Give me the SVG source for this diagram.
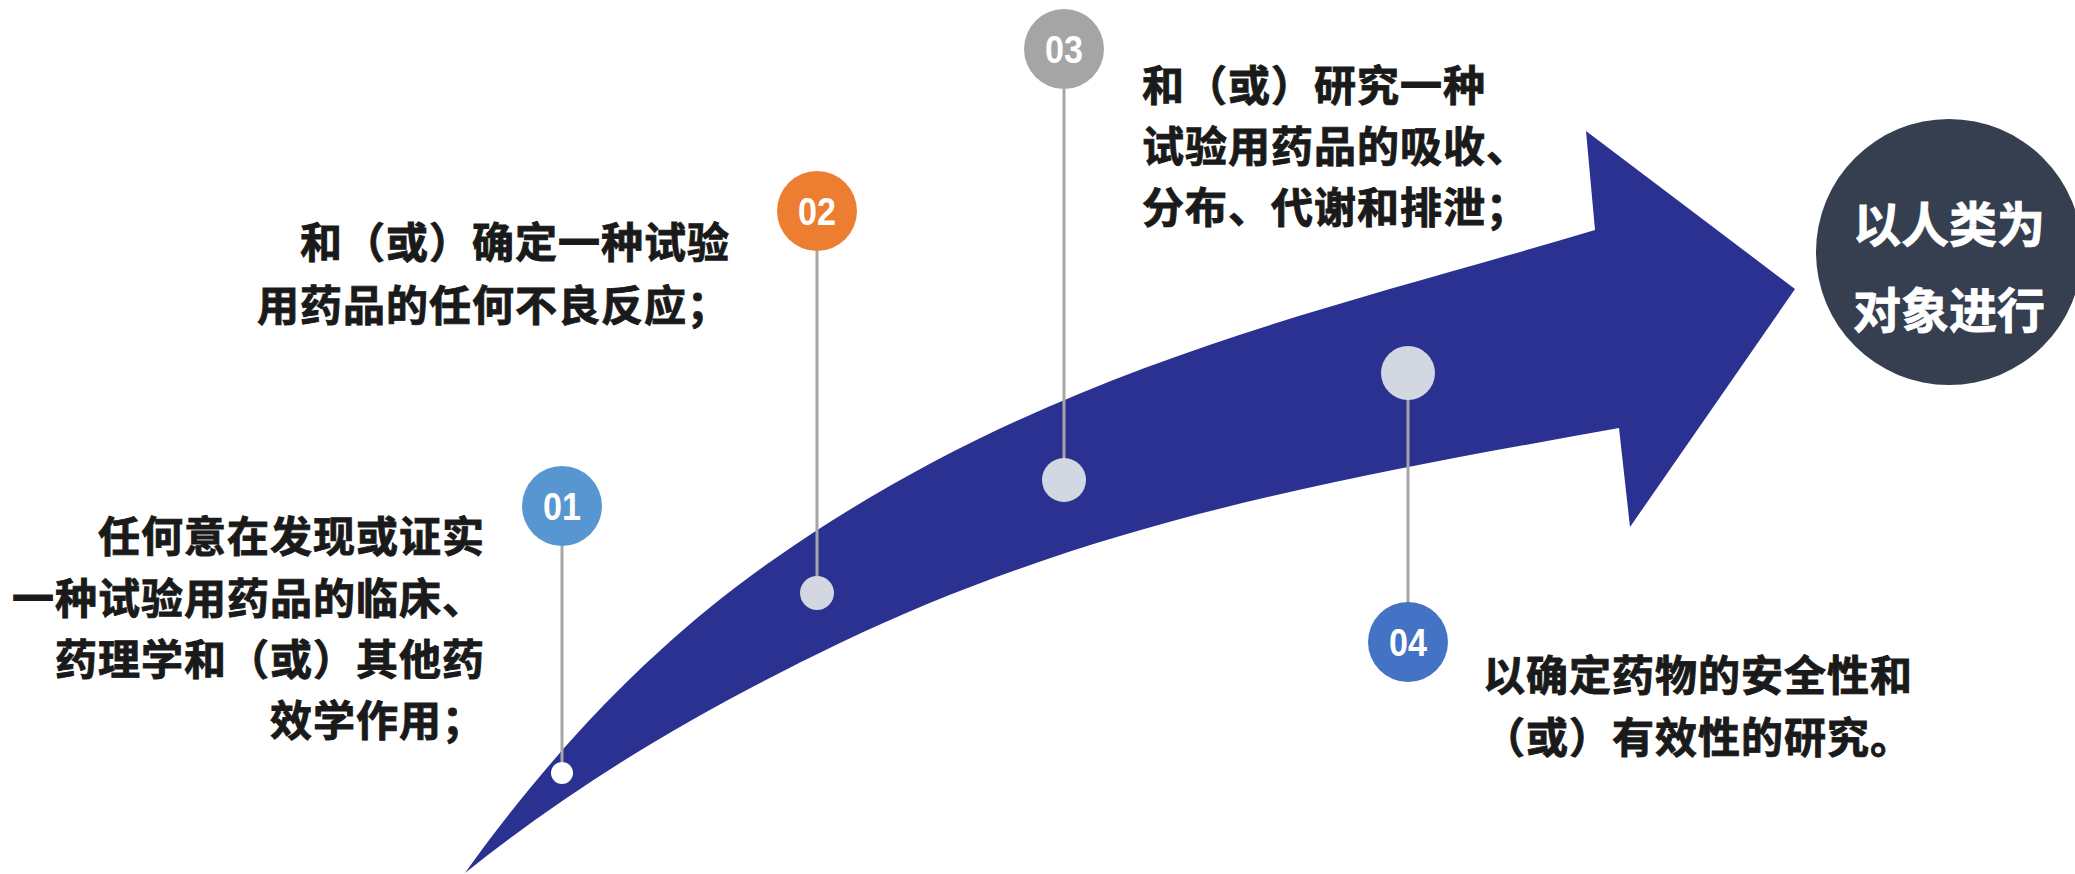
<svg xmlns="http://www.w3.org/2000/svg" width="2075" height="874" viewBox="0 0 2075 874">
  <style>
    .t { font-family: "Noto Sans CJK SC", "Noto Sans", sans-serif; font-weight: 700; font-size: 42px; fill: #1a1a1a; stroke: #1a1a1a; stroke-width: 0.9px; letter-spacing: 1px; }
    .num { font-family: "Liberation Sans", Arial, sans-serif; font-weight: 700; font-size: 38px; fill: #ffffff; text-anchor: middle; }
    .big { font-family: "Noto Sans CJK SC", "Noto Sans", sans-serif; font-weight: 700; font-size: 48px; fill: #ffffff; stroke: #ffffff; stroke-width: 0.8px; text-anchor: middle; }
    .conn { stroke: #a6a6a6; stroke-width: 3; fill: none; }
    .dot { fill: #d3d7e1; }
  </style>
  <rect width="2075" height="874" fill="#ffffff"/>

  <g id="arrow">
    <path d="M465,873 C590,773 715,703 840,643 C1100,518 1359,475 1619,428 L1630,527 L1795,289 L1586,131 L1595,230 C1321,312 1047,368 773,560 C670,632 565,733 465,873 Z" fill="#2b3191"/>
  </g>

  <g id="connectors">
    <line class="conn" x1="562" y1="546" x2="562" y2="762"/>
    <line class="conn" x1="817" y1="250" x2="817" y2="577"/>
    <line class="conn" x1="1064" y1="89" x2="1064" y2="459"/>
    <line class="conn" x1="1408" y1="399" x2="1408" y2="603"/>
  </g>

  <g id="node-01">
    <circle cx="562" cy="506" r="40" fill="#5896d2"/>
    <text class="num" x="562" y="520" textLength="38" lengthAdjust="spacingAndGlyphs">01</text>
    <circle cx="562" cy="773" r="11" fill="#ffffff"/>
    <text class="t" text-anchor="end" x="485" y="552">任何意在发现或证实</text>
    <text class="t" text-anchor="end" x="485" y="614">一种试验用药品的临床、</text>
    <text class="t" text-anchor="end" x="485" y="675">药理学和（或）其他药</text>
    <text class="t" text-anchor="end" x="485" y="736">效学作用；</text>
  </g>

  <g id="node-02">
    <circle cx="817" cy="211" r="40" fill="#ed7d31"/>
    <text class="num" x="817" y="225" textLength="38" lengthAdjust="spacingAndGlyphs">02</text>
    <circle class="dot" cx="817" cy="593" r="17"/>
    <text class="t" text-anchor="end" x="730" y="258">和（或）确定一种试验</text>
    <text class="t" text-anchor="end" x="730" y="321">用药品的任何不良反应；</text>
  </g>

  <g id="node-03">
    <circle cx="1064" cy="49" r="40" fill="#a5a5a5"/>
    <text class="num" x="1064" y="63" textLength="38" lengthAdjust="spacingAndGlyphs">03</text>
    <circle class="dot" cx="1064" cy="480" r="22"/>
    <text class="t" x="1142" y="101">和（或）研究一种</text>
    <text class="t" x="1142" y="162">试验用药品的吸收、</text>
    <text class="t" x="1142" y="223">分布、代谢和排泄；</text>
  </g>

  <g id="node-04">
    <circle class="dot" cx="1408" cy="373" r="27"/>
    <circle cx="1408" cy="642" r="40" fill="#4472c4"/>
    <text class="num" x="1408" y="656" textLength="38" lengthAdjust="spacingAndGlyphs">04</text>
    <text class="t" x="1483" y="691">以确定药物的安全性和</text>
    <text class="t" x="1483" y="753">（或）有效性的研究。</text>
  </g>

  <g id="target">
    <circle cx="1949" cy="252" r="133" fill="#353f50"/>
    <text class="big" x="1949" y="242">以人类为</text>
    <text class="big" x="1949" y="328">对象进行</text>
  </g>
</svg>
